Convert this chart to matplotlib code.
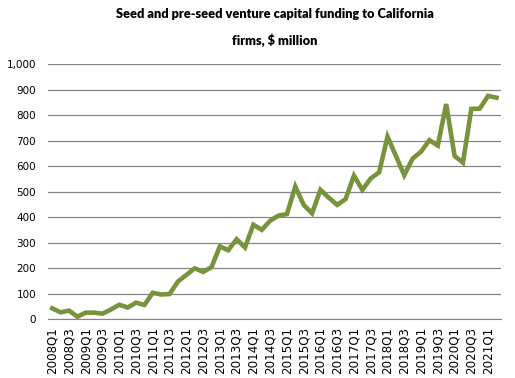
import matplotlib
matplotlib.use("Agg")
import matplotlib.pyplot as plt

# quarterly seed / pre-seed VC funding, $ million
years = list(range(2008, 2022))
quarters = ["%dQ%d" % (y, q) for y in years for q in range(1, 5)][:54]
funding = [42, 26, 33, 9, 25, 25, 21, 37, 56, 45,
           64, 55, 103, 96, 98, 147, 173, 199, 185, 203,
           285, 270, 313, 281, 370, 350, 386, 406, 412, 520,
           448, 415, 507, 476, 448, 471, 563, 507, 552, 576,
           716, 640, 565, 630, 657, 702, 681, 844, 640, 614,
           825, 826, 876, 869]
title = "Seed and pre-seed venture capital funding to California\nfirms, $ million"

plt.rcParams['font.family'] = ['DejaVu Sans']

fig = plt.figure(figsize=(5.15, 3.78), dpi=100)
ax = fig.add_axes([0.0932, 0.1561, 0.879, 0.6738])

x = list(range(len(funding)))
ax.plot(x, funding, color="#77933C", linewidth=3.3, solid_joinstyle="miter")

ax.set_xlim(-0.5, len(funding) - 0.5)
ax.set_ylim(0, 1000)
ax.set_yticks(range(0, 1001, 100))
ax.set_yticklabels(["{:,}".format(v) for v in range(0, 1001, 100)],
                   fontsize=7.5, family="DejaVu Sans")
ax.set_xticks(x[::2])
ax.set_xticklabels(quarters[::2], rotation=90, fontsize=8.6, family="DejaVu Sans")
ax.grid(axis="y", color="#868686", linewidth=0.9)
ax.set_axisbelow(True)
for s in ["top", "right", "left"]:
    ax.spines[s].set_visible(False)
ax.spines["bottom"].set_color("#868686")
ax.tick_params(axis="y", length=0, pad=8.5)
ax.tick_params(axis="x", length=0, pad=5.5)

fig.text(0.533, 0.927, title, ha="center", va="center", fontsize=9.2,
         fontweight="heavy", family="Lato", linespacing=2.12)

fig.savefig("out.png", dpi=100)
